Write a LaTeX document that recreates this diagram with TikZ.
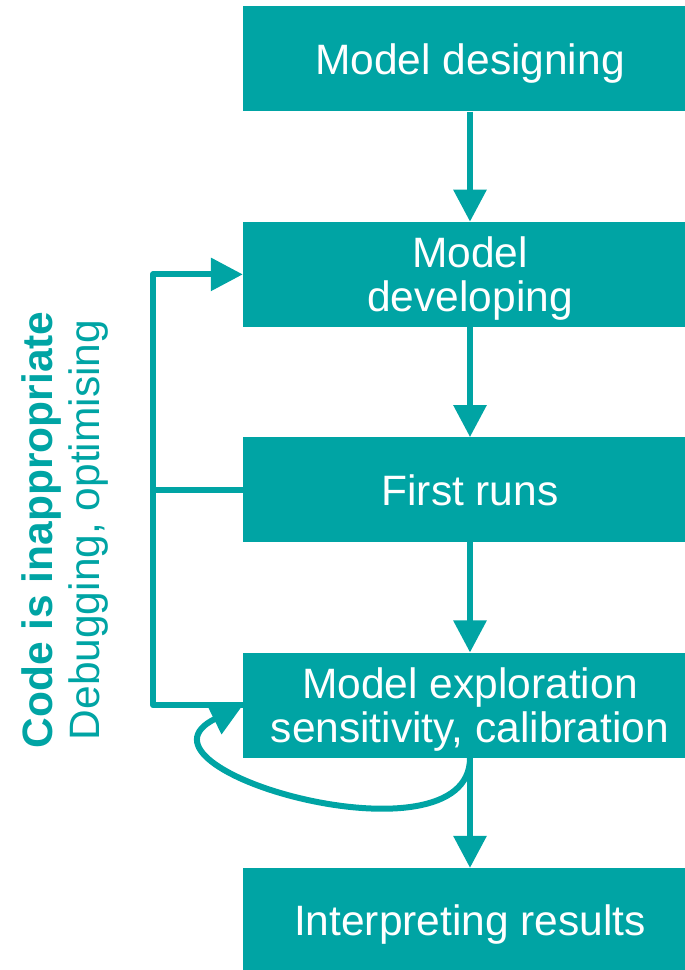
\documentclass[tikz,border=0pt]{standalone}
\usepackage{fontspec}
\setmainfont{Liberation Sans}
\usetikzlibrary{positioning,arrows.meta}
\definecolor{modelteal}{RGB}{0,164,164}
\begin{document}
\begin{tikzpicture}[x=1pt,y=1pt]
        \tikzset{>={Triangle[length=32pt,width=32pt]}}
        \tikzset{stage/.style={fill=modelteal, text=white, minimum width=454pt, minimum height=105pt, inner sep=0pt, text depth=0pt, align=center, font=\fontsize{42.5}{44}\selectfont}}
        \tikzset{flow/.style={draw=modelteal, line width=6pt, line join=round}}
        \useasboundingbox (0,0) rectangle (685,970);
        \node[stage] (design) at (470,911) {Model designing};
        \node[stage, below=110pt of design] (develop) {Model\\developing};
        \node[stage, below=110pt of develop] (runs) {First runs};
        \node[stage, below=110pt of runs] (explore) {Model exploration\\sensitivity, calibration};
        \node[stage, below=110pt of explore] (results) {Interpreting results};
        \coordinate (back) at (153,0);
        \draw[flow,->] (design) -- (develop);
        \draw[flow,->] (develop) -- (runs);
        \draw[flow,->] (runs) -- (explore);
        \draw[flow,->] (explore) -- (results);
        \draw[flow,->] (explore.west) -- (explore.west -| back) |- (develop.west);
        \draw[flow] (runs.west) -- (runs.west -| back);
        \draw[flow,->] (explore.south) .. controls +(0,-112) and +(-130,-64) .. (explore.west);
        \node[rotate=90, text=modelteal, align=center, inner sep=0pt, font=\fontsize{42.5}{47}\selectfont] (reason) at (65,440) {\textbf{Code is inappropriate}\\Debugging, optimising};
    \end{tikzpicture}
\end{document}
